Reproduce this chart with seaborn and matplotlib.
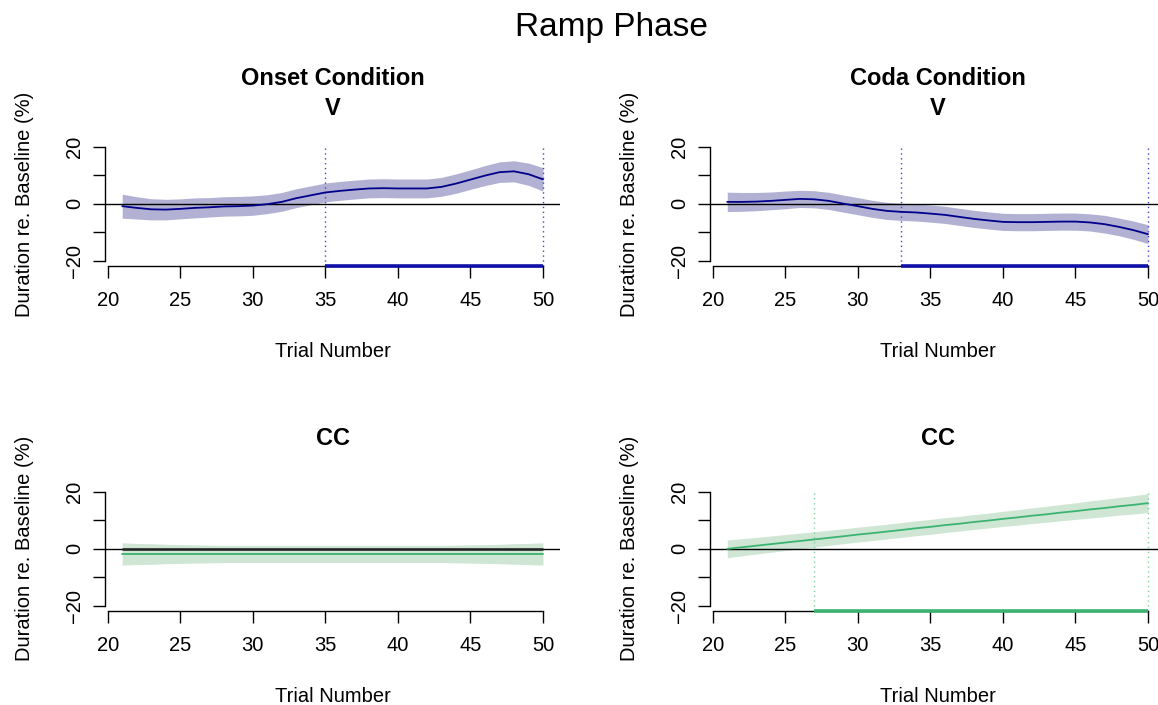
import matplotlib
matplotlib.use("Agg")
from matplotlib import pyplot as plt
import seaborn as sns
import pandas as pd

# trial numbers for every fitted point
trials = list(range(21, 51))

# Onset Condition, V : fitted smooth and half width of the band
onset_v_fit = [-0.8, -1.4, -1.9, -2.0, -1.75, -1.4, -1.2, -0.9, -0.8, -0.6,
               -0.1, 0.7, 2.0, 3.0, 4.0, 4.55, 5.0, 5.4, 5.5, 5.4,
               5.4, 5.4, 5.95, 7.1, 8.5, 9.9, 11.1, 11.4, 10.4, 8.6]
onset_v_se = [4.2, 3.9, 3.7, 3.6, 3.5, 3.5, 3.4, 3.4, 3.4, 3.4,
              3.3, 3.3, 3.3, 3.3, 3.3, 3.3, 3.3, 3.3, 3.3, 3.3,
              3.3, 3.3, 3.3, 3.4, 3.4, 3.5, 3.6, 3.7, 3.9, 4.1]

# Coda Condition, V
coda_v_fit = [0.7, 0.7, 0.8, 1.05, 1.4, 1.75, 1.6, 1.05, 0.1, -0.8,
              -1.75, -2.45, -2.8, -3.0, -3.4, -3.85, -4.55, -5.25, -5.8, -6.3,
              -6.4, -6.4, -6.3, -6.2, -6.2, -6.5, -7.1, -8.05, -9.2, -10.6]
coda_v_se = [3.4, 3.3, 3.2, 3.1, 3.1, 3.0, 3.0, 3.0, 3.0, 3.0,
             3.0, 3.0, 3.0, 3.0, 3.0, 3.0, 3.0, 3.0, 3.0, 3.0,
             3.0, 3.0, 3.0, 3.0, 3.0, 3.0, 3.1, 3.1, 3.2, 3.3]

# Onset Condition, CC
onset_cc_fit = [-1.8, -1.8, -1.8, -1.8, -1.8, -1.8, -1.8, -1.8, -1.8, -1.8,
                -1.8, -1.8, -1.8, -1.8, -1.8, -1.8, -1.8, -1.8, -1.8, -1.8,
                -1.8, -1.8, -1.8, -1.8, -1.8, -1.8, -1.8, -1.8, -1.8, -1.8]
onset_cc_se = [3.9, 3.7, 3.6, 3.4, 3.3, 3.2, 3.1, 3.0, 3.0, 3.0,
               3.0, 3.0, 3.0, 3.0, 3.0, 3.0, 3.0, 3.0, 3.0, 3.0,
               3.0, 3.0, 3.0, 3.1, 3.2, 3.3, 3.4, 3.6, 3.7, 3.9]

# Coda Condition, CC
coda_cc_fit = [0.0, 0.55, 1.1, 1.65, 2.2, 2.75, 3.3, 3.85, 4.4, 5.0,
               5.5, 6.05, 6.6, 7.2, 7.7, 8.3, 8.8, 9.4, 9.9, 10.5,
               11.0, 11.6, 12.1, 12.7, 13.2, 13.8, 14.3, 14.9, 15.4, 16.0]
coda_cc_se = [3.1, 3.0, 2.9, 2.85, 2.8, 2.75, 2.7, 2.65, 2.6, 2.6,
              2.6, 2.6, 2.6, 2.6, 2.6, 2.6, 2.6, 2.6, 2.6, 2.65,
              2.7, 2.75, 2.8, 2.85, 2.9, 3.0, 3.05, 3.1, 3.2, 3.3]

# regions where the curve differs from zero (None = no region)
onset_v_sig = [35, 50]
coda_v_sig = [33, 50]
onset_cc_sig = None
coda_cc_sig = [27, 50]

x_ticks = [20, 25, 30, 35, 40, 45, 50]
y_ticks = [-20, -10, 0, 10, 20]
y_ticklabels = ["\u221220", "", "0", "", "20"]

V_LINE, V_BAND, V_DOT = "#00008b", "#b3b1d3", "#4444cc"
CC_LINE, CC_BAND, CC_DOT = "#3cb371", "#cfe6d5", "#80d0a0"

sns.set_style("ticks")
plt.rcParams["font.family"] = ["Liberation Sans", "DejaVu Sans"]
plt.rcParams["axes.linewidth"] = 1.0
plt.rcParams["text.color"] = "black"
plt.rcParams["axes.labelcolor"] = "black"
plt.rcParams["xtick.color"] = "black"
plt.rcParams["ytick.color"] = "black"

XLIM = (19.84, 51.16)
YLIM = (-21.6, 21.6)


def draw_panel(ax, title, fit, se, sig, line_c, band_c, dot_c, zero_bar=False):
    df = pd.DataFrame({"trial": trials, "fit": fit, "se": se})
    df["lo"] = df["fit"] - df["se"]
    df["hi"] = df["fit"] + df["se"]

    ax.fill_between(df["trial"], df["lo"], df["hi"], color=band_c, lw=0, zorder=1)
    ax.axhline(0, color="black", lw=1.0, zorder=2)
    if zero_bar:
        ax.hlines(0, min(trials), max(trials), color="#222222", lw=1.8, zorder=2)
    sns.lineplot(data=df, x="trial", y="fit", ax=ax, color=line_c, lw=1.3, zorder=3)

    if sig is not None:
        ax.vlines(sig, YLIM[0], 20, colors=dot_c, linestyles=(0, (1, 2.5)), lw=1.0, zorder=2)
        ax.hlines(YLIM[0], sig[0], sig[1], colors=line_c if line_c != V_LINE else "#1010a8",
                  lw=2.6, zorder=4, clip_on=False)

    ax.set_xlim(*XLIM)
    ax.set_ylim(*YLIM)
    for s in ["top", "right"]:
        ax.spines[s].set_visible(False)
    ax.spines["left"].set_bounds(-20, 20)
    ax.spines["bottom"].set_bounds(20, 50)
    for s in ["left", "bottom"]:
        ax.spines[s].set_color("black")
    ax.set_xticks(x_ticks)
    ax.set_yticks(y_ticks)
    ax.set_yticklabels(y_ticklabels)
    ax.tick_params(direction="out", length=8.5, width=1.0, labelsize=14.5, colors="black")
    ax.tick_params(axis="x", pad=10)
    ax.tick_params(axis="y", pad=7)
    plt.setp(ax.get_yticklabels(), rotation=90, va="center")
    ax.set_xlabel("Trial Number", fontsize=14.5, labelpad=23)
    ax.set_ylabel("Duration re. Baseline (%)", fontsize=14.5, labelpad=22)
    ax.annotate(title, xy=(0.5, 1.0), xycoords="axes fraction",
                xytext=(0, 35), textcoords="offset points",
                ha="center", va="center", fontsize=17, fontweight="bold",
                linespacing=1.38, annotation_clip=False)


fig = plt.figure(figsize=(11.58, 7.05), dpi=100)

W, H = 0.3924, 0.175
ax1 = fig.add_axes([0.0910, 0.6233, W, H])
ax2 = fig.add_axes([0.6135, 0.6233, W, H])
ax3 = fig.add_axes([0.0910, 0.1340, W, H])
ax4 = fig.add_axes([0.6135, 0.1340, W, H])

draw_panel(ax1, "Onset Condition\nV", onset_v_fit, onset_v_se, onset_v_sig, V_LINE, V_BAND, V_DOT)
draw_panel(ax2, "Coda Condition\nV", coda_v_fit, coda_v_se, coda_v_sig, V_LINE, V_BAND, V_DOT)
draw_panel(ax3, "CC", onset_cc_fit, onset_cc_se, onset_cc_sig, CC_LINE, CC_BAND, CC_DOT, zero_bar=True)
draw_panel(ax4, "CC", coda_cc_fit, coda_cc_se, coda_cc_sig, CC_LINE, CC_BAND, CC_DOT)

fig.text(0.528, 0.9617, "Ramp Phase", ha="center", va="center", fontsize=24)

fig.savefig("out.png", dpi=100)
